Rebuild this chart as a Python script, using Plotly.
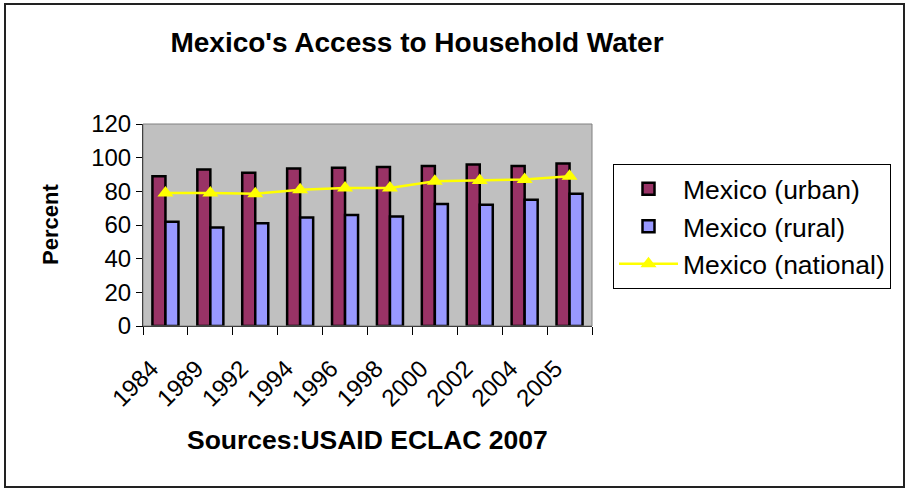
import plotly.graph_objects as go

# Survey years and access rates (percent of households with water)
years = ["1984", "1989", "1992", "1994", "1996", "1998", "2000", "2002", "2004", "2005"]
urban = [89, 93, 91, 93.5, 94, 94.5, 95, 96, 95, 96.5]
rural = [62, 58.5, 61, 64.5, 66, 65, 72.5, 72, 75, 78.5]
national = [79, 79, 78.5, 81, 82, 82, 86, 86.5, 87, 89]

W, H = 906, 488
L, R, T, B = 143, 592, 124, 326  # plot area in pixels


def px(x):
    return (x - L) / (R - L)


def py(y):
    return (B - y) / (B - T)


font = "Liberation Sans, Arial, sans-serif"

fig = go.Figure()
fig.add_trace(go.Bar(
    x=years, y=urban, name="Mexico (urban)",
    marker=dict(color="#993366", line=dict(color="black", width=2.5)),
    legendgroup="a",
))
fig.add_trace(go.Bar(
    x=years, y=rural, name="Mexico (rural)",
    marker=dict(color="#9999FF", line=dict(color="black", width=2.5)),
    legendgroup="b",
))
fig.add_trace(go.Scatter(
    x=years, y=national, name="Mexico (national)", mode="lines+markers",
    line=dict(color="#FFFF00", width=2.5),
    marker=dict(symbol="triangle-up", size=14, color="#FFFF00"),
    legendgroup="c",
))

fig.update_layout(
    width=W, height=H,
    margin=dict(l=L, r=W - R, t=T, b=H - B),
    paper_bgcolor="white",
    plot_bgcolor="#C0C0C0",
    barmode="group",
    bargap=0.42,
    bargroupgap=0,
    font=dict(family=font, size=24, color="black"),
    title=dict(
        text="<b>Mexico's Access to Household Water</b>",
        x=px(417), xref="paper", xanchor="center",
        y=1 - 42 / H, yref="container", yanchor="middle",
        font=dict(family=font, size=28, color="black"),
    ),
    showlegend=True,
    legend=dict(
        x=px(613), y=py(164), xanchor="left", yanchor="top",
        bordercolor="black", borderwidth=1, bgcolor="white",
        font=dict(family=font, size=26.5),
        traceorder="grouped", tracegroupgap=0,
        itemwidth=59,
    ),
    xaxis=dict(
        type="category",
        range=[-0.5, len(years) - 0.5],
        tickangle=-45,
        tickson="boundaries",
        ticks="outside", ticklen=8, tickcolor="black",
        showline=True, linecolor="black", linewidth=1,
        showgrid=False,
        tickfont=dict(family=font, size=24),
        ticklabelshift=-14,
        ticklabelstandoff=18,
    ),
    yaxis=dict(
        range=[0, 120], dtick=20,
        ticks="outside", ticklen=6, tickcolor="black",
        showline=True, linecolor="black", linewidth=1,
        showgrid=False, zeroline=False,
        tickfont=dict(family=font, size=24),
    ),
    annotations=[
        dict(text="<b>Percent</b>", textangle=-90, showarrow=False,
             x=px(50), y=py(225), xref="paper", yref="paper",
             xanchor="center", yanchor="middle",
             font=dict(family=font, size=22)),
        dict(text="<b>Sources:USAID ECLAC 2007</b>", showarrow=False,
             x=0.5, y=py(440), xref="paper", yref="paper",
             xanchor="center", yanchor="middle",
             font=dict(family=font, size=26.5)),
    ],
    shapes=[
        # plot area frame (top/right edges)
        dict(type="rect", xref="paper", yref="paper", x0=0, y0=0, x1=1, y1=1,
             line=dict(color="#808080", width=1), layer="above"),
        # outer chart border
        dict(type="rect", xref="paper", yref="paper",
             x0=px(5), y0=py(487), x1=px(904), y1=py(4),
             line=dict(color="#222222", width=2)),
    ],
)

fig.write_html("out.html")
